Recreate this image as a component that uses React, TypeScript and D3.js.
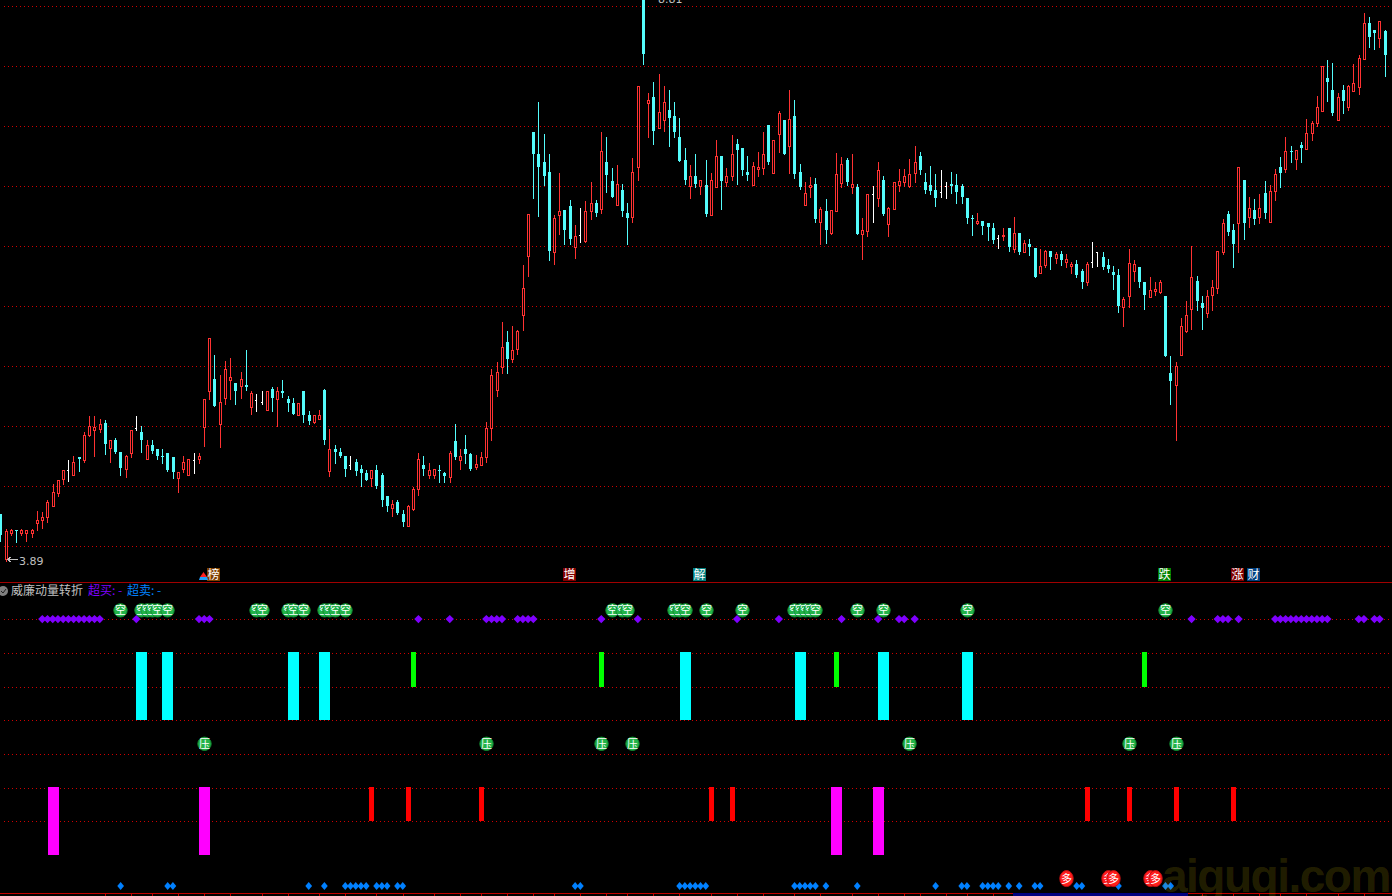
import * as d3 from "d3";

const WIDTH = 1392;
const HEIGHT = 896;

// daily candles
const opens = [
  4.28,3.89,4.12,4.14,4.12,4.12,4.12,4.20,4.23,4.26,
  4.35,4.47,4.59,4.67,4.63,4.78,4.76,4.98,5.02,5.03,
  5.08,4.86,4.93,4.83,4.68,4.82,5.04,5.00,4.77,4.89,
  4.85,4.79,4.82,4.78,4.60,4.68,4.63,4.76,4.77,5.05,
  5.36,5.47,5.07,5.30,5.46,5.43,5.41,5.42,5.22,5.28,
  5.27,5.20,5.38,5.29,5.36,5.29,5.26,5.15,5.36,5.15,
  5.09,5.12,5.37,4.66,4.85,4.83,4.79,4.71,4.74,4.68,
  4.64,4.60,4.67,4.63,4.44,4.34,4.39,4.28,4.18,4.33,
  4.50,4.71,4.63,4.63,4.67,4.64,4.61,4.92,4.76,4.85,
  4.81,4.70,4.71,4.78,5.04,5.37,5.57,5.79,5.64,5.73,
  6.03,6.55,7.64,7.44,7.37,7.29,6.58,6.91,6.95,6.99,
  6.63,6.73,6.68,6.94,7.01,6.96,7.37,7.21,7.00,7.13,
  6.93,6.89,7.33,8.81,7.89,7.94,7.67,7.74,7.83,7.78,
  7.59,7.39,7.16,7.25,7.16,7.17,6.91,7.15,7.43,7.20,
  7.25,7.53,7.50,7.29,7.17,7.31,7.32,7.70,7.28,7.62,
  7.74,7.51,7.78,7.29,7.00,7.15,7.18,6.85,6.94,6.75,
  6.94,7.19,7.39,7.15,7.15,6.74,6.77,7.09,7.06,7.22,
  6.83,6.96,7.17,7.20,7.16,7.28,7.43,7.20,7.17,7.13,
  7.11,7.16,7.18,7.17,7.16,7.06,6.88,6.84,6.86,6.84,
  6.79,6.71,6.72,6.79,6.61,6.75,6.58,6.65,6.62,6.40,
  6.47,6.59,6.53,6.57,6.50,6.46,6.48,6.42,6.32,6.50,
  6.58,6.54,6.47,6.41,6.38,6.10,6.20,6.42,6.45,6.32,
  6.19,6.24,6.23,6.20,5.52,5.42,5.68,5.89,6.08,6.33,
  6.14,6.05,6.21,6.27,6.58,6.92,6.78,6.84,7.22,6.89,
  6.95,6.89,7.10,6.85,7.12,7.33,7.31,7.47,7.40,7.52,
  7.49,7.63,7.72,7.82,8.11,8.01,7.74,8.01,7.86,8.00,
  8.03,8.28,8.59,8.53,8.46,8.52,
];
const highs = [
  4.28,4.15,4.15,4.14,4.15,4.14,4.15,4.31,4.30,4.41,
  4.55,4.58,4.67,4.76,4.79,4.78,5.00,5.14,5.14,5.12,
  5.11,4.93,4.95,4.83,4.80,5.02,5.14,5.06,4.93,4.93,
  4.85,4.85,4.82,4.78,4.65,4.79,4.77,4.82,4.82,5.29,
  5.83,5.68,5.50,5.63,5.65,5.43,5.53,5.72,5.36,5.34,
  5.36,5.36,5.40,5.40,5.46,5.32,5.30,5.26,5.36,5.19,
  5.15,5.20,5.38,5.03,4.89,4.86,4.79,4.79,4.77,4.71,
  4.67,4.67,4.71,4.64,4.44,4.41,4.41,4.32,4.36,4.52,
  4.82,4.79,4.73,4.68,4.71,4.65,4.84,5.07,4.85,4.98,
  4.82,4.80,4.83,5.09,5.56,5.62,5.97,5.89,5.93,5.90,
  6.47,6.92,7.64,7.90,7.62,7.44,6.91,7.28,6.95,7.04,
  6.82,6.97,7.03,7.20,7.04,7.64,7.59,7.32,7.35,7.18,
  7.01,7.41,8.04,8.81,7.98,8.08,8.15,8.04,8.01,7.90,
  7.76,7.50,7.35,7.44,7.22,7.39,7.28,7.57,7.43,7.32,
  7.61,7.58,7.50,7.43,7.37,7.46,7.64,7.70,7.57,7.82,
  7.74,8.01,7.92,7.36,7.20,7.24,7.23,6.98,7.05,6.95,
  7.45,7.42,7.41,7.44,7.18,6.88,7.09,7.16,7.37,7.25,
  6.98,7.20,7.31,7.31,7.40,7.51,7.46,7.28,7.34,7.27,
  7.30,7.20,7.29,7.27,7.18,7.06,6.91,6.93,6.86,6.84,
  6.84,6.73,6.79,6.79,6.89,6.75,6.69,6.70,6.62,6.61,
  6.60,6.59,6.58,6.59,6.57,6.50,6.51,6.43,6.50,6.67,
  6.58,6.58,6.52,6.46,6.43,6.19,6.61,6.51,6.45,6.32,
  6.36,6.32,6.34,6.20,5.67,5.62,6.00,6.15,6.64,6.37,
  6.20,6.25,6.34,6.59,6.87,6.94,6.83,7.33,7.22,7.07,
  7.05,7.09,7.21,7.17,7.31,7.42,7.59,7.51,7.48,7.55,
  7.75,7.73,7.95,8.22,8.27,8.24,7.98,8.05,8.05,8.23,
  8.31,8.68,8.65,8.53,8.61,8.53,
];
const lows = [
  4.05,3.87,4.10,4.04,4.10,4.05,4.08,4.14,4.16,4.21,
  4.35,4.44,4.55,4.57,4.63,4.66,4.74,4.97,4.79,5.00,
  4.81,4.74,4.82,4.63,4.61,4.78,5.02,4.83,4.77,4.82,
  4.77,4.73,4.66,4.60,4.48,4.65,4.63,4.64,4.73,4.88,
  5.29,5.23,4.87,5.25,5.29,5.25,5.30,5.37,5.16,5.19,
  5.25,5.20,5.19,5.06,5.31,5.19,5.16,5.15,5.09,5.07,
  5.08,5.12,4.90,4.62,4.73,4.78,4.62,4.68,4.63,4.53,
  4.58,4.53,4.51,4.35,4.31,4.27,4.28,4.18,4.18,4.32,
  4.45,4.63,4.60,4.60,4.56,4.56,4.56,4.77,4.68,4.73,
  4.67,4.68,4.71,4.74,4.93,5.32,5.52,5.52,5.62,5.69,
  5.90,6.37,7.06,6.90,7.17,6.51,6.48,6.74,6.65,6.65,
  6.53,6.67,6.67,6.87,6.90,6.93,7.11,7.07,7.00,6.90,
  6.65,6.85,7.22,8.23,7.59,7.53,7.67,7.65,7.51,7.59,
  7.38,7.18,7.06,7.15,7.09,6.90,6.91,7.15,6.96,7.16,
  7.22,7.18,7.26,7.22,7.17,7.25,7.27,7.36,7.28,7.46,
  7.44,7.28,7.23,7.14,7.00,7.07,6.85,6.65,6.66,6.74,
  6.94,7.15,7.17,7.10,6.74,6.52,6.72,6.85,6.99,6.91,
  6.72,6.96,7.12,7.16,7.15,7.20,7.27,7.10,7.09,6.99,
  7.07,7.06,7.10,7.01,7.01,6.84,6.73,6.83,6.74,6.69,
  6.66,6.62,6.69,6.59,6.58,6.57,6.58,6.56,6.36,6.40,
  6.45,6.43,6.49,6.47,6.45,6.40,6.36,6.27,6.29,6.45,
  6.46,6.43,6.41,6.26,6.06,5.93,6.10,6.33,6.28,6.08,
  6.19,6.21,6.22,5.67,5.25,4.93,5.68,5.88,5.91,6.07,
  5.91,6.01,6.07,6.22,6.57,6.73,6.45,6.58,6.70,6.80,
  6.83,6.84,6.88,6.85,7.04,7.15,7.29,7.37,7.31,7.37,
  7.49,7.57,7.69,7.82,7.91,7.79,7.74,7.80,7.83,8.00,
  7.97,8.28,8.38,8.37,8.38,8.13,
];
const closes = [
  4.10,4.13,4.14,4.13,4.14,4.14,4.14,4.23,4.26,4.39,
  4.48,4.58,4.67,4.67,4.74,4.77,4.98,5.06,5.05,5.07,
  4.90,4.93,4.83,4.69,4.79,5.02,5.04,4.93,4.89,4.84,
  4.79,4.78,4.67,4.65,4.65,4.74,4.77,4.76,4.79,5.29,
  5.83,5.23,5.27,5.56,5.49,5.36,5.47,5.40,5.35,5.28,
  5.27,5.36,5.30,5.36,5.35,5.26,5.16,5.26,5.15,5.10,
  5.15,5.15,4.93,4.85,4.83,4.79,4.68,4.71,4.66,4.64,
  4.58,4.67,4.53,4.41,4.35,4.37,4.29,4.21,4.35,4.50,
  4.77,4.68,4.67,4.68,4.66,4.62,4.82,4.78,4.79,4.81,
  4.68,4.72,4.78,5.04,5.50,5.53,5.75,5.64,5.72,5.89,
  6.27,6.92,7.44,7.33,7.25,6.59,6.88,6.94,6.78,6.70,
  6.72,6.73,6.94,7.01,6.93,7.47,7.26,7.07,7.18,6.94,
  6.88,7.29,8.04,8.32,7.92,7.65,7.81,7.90,7.76,7.64,
  7.38,7.22,7.25,7.18,7.22,6.92,7.22,7.43,7.21,7.25,
  7.44,7.48,7.30,7.26,7.34,7.33,7.44,7.37,7.57,7.80,
  7.44,7.75,7.27,7.15,7.10,7.17,6.87,6.96,6.78,6.95,
  7.27,7.36,7.20,7.18,6.74,6.78,7.09,7.09,7.30,6.92,
  6.97,7.20,7.21,7.25,7.27,7.37,7.30,7.13,7.12,7.06,
  7.11,7.16,7.16,7.11,7.07,6.88,6.87,6.86,6.81,6.80,
  6.69,6.71,6.73,6.63,6.75,6.58,6.66,6.63,6.36,6.46,
  6.59,6.54,6.57,6.51,6.52,6.48,6.38,6.32,6.48,6.50,
  6.58,6.45,6.43,6.38,6.11,6.17,6.49,6.48,6.32,6.21,
  6.25,6.26,6.32,5.67,5.45,5.58,5.93,6.03,6.36,6.15,
  6.09,6.20,6.28,6.59,6.84,6.76,6.65,7.33,6.84,6.97,
  6.87,6.97,6.93,7.12,7.27,7.28,7.47,7.46,7.48,7.50,
  7.63,7.72,7.86,8.22,8.08,7.80,7.94,7.91,8.04,8.07,
  8.29,8.59,8.47,8.51,8.61,8.31,
];

const PRICE_LOW = 3.89;
const PRICE_HIGH = 8.81;

// events, as candle indexes
const oversoldDots = [8,9,10,11,12,13,14,15,16,17,18,19,26,38,39,40,80,86,93,94,95,96,99,100,101,102,115,122,141,149,161,168,172,173,175,228,233,234,235,237,244,245,246,247,248,249,250,251,252,253,254,260,261,263,264];
const overboughtDots = [23,32,33,59,62,66,67,68,69,70,72,73,74,76,77,110,111,130,131,132,133,134,135,152,153,154,155,156,158,164,179,184,185,188,189,190,191,193,195,198,199,206,207,214,223,224];
const kongBadges = [23,27,28,29,30,32,49,50,55,56,58,62,63,64,66,117,119,120,129,130,131,135,142,152,153,154,155,156,164,169,185,223];
const yaBadges = [39,93,115,121,174,216,225];
const duoBadges = [204,212,213,220,221];
const cyanBars = [27,32,56,62,131,153,169,185];
const greenBars = [79,115,160,219];
const magentaBars = [10,39,160,168];
const redBars = [71,78,92,136,140,208,216,225,236];

const eventTags = [
  { index: 41, label: "榜", color: "#804000" },
  { index: 109, label: "增", color: "#800000" },
  { index: 134, label: "解", color: "#008080" },
  { index: 223, label: "跌", color: "#008000" },
  { index: 237, label: "涨", color: "#800000" },
  { index: 240, label: "财", color: "#004080" },
];

const axisTicks = [20,25,29,34,39,44,50,55,61,66,72,77,83,88,92,97,102,106,111,116,120,125,130,136,141,146,152,157,163,168,173,176,181,185,190,230,236,241,245,250,256,261];

const RED = "#ff3232";
const CYAN = "#54fcfc";
const GRID = "#d00000";
const CJK = '"Noto Sans CJK SC", sans-serif';

const x = d3.scaleLinear().domain([0, 265]).range([0.8, 1385.16]);
const y = d3.scaleLinear().domain([PRICE_LOW, PRICE_HIGH]).range([558.8, -1.6]);
// lower pane, one unit per grid row
const level = d3.scaleLinear().domain([0, 8]).range([855, 585.4]);
const levelTop = (v: number) => Math.floor(level(v));

const px = (i: number) => Math.floor(x(i));
const mainGrid = d3.range(10).map((k) => 6 + 60 * k);
const paneGrid = d3.range(1, 8).map((v) => Math.round(level(v)));

const purpleDiamond = d3.symbol().type(d3.symbolDiamond2).size(44)();
const blueDiamond = d3.symbol().type(d3.symbolDiamond2).size(40)();

const Candle = ({ i }: { i: number }) => {
  const o = opens[i];
  const c = closes[i];
  const left = px(i);
  const wickTop = Math.round(y(highs[i]));
  const wickBottom = Math.round(y(lows[i])) + 1;
  const top = Math.round(y(Math.max(o, c)));
  const bottom = Math.max(top + 1, Math.round(y(Math.min(o, c))));

  if (c === o) {
    return (
      <g fill="#ffffff">
        <rect x={left} y={wickTop} width={1} height={wickBottom - wickTop} />
        <rect x={left - 1} y={top} width={1} height={1} />
      </g>
    );
  }
  const color = c > o ? RED : CYAN;
  return (
    <g fill={color}>
      <rect x={left} y={wickTop} width={1} height={wickBottom - wickTop} />
      <rect x={left - 1} y={top} width={3} height={bottom - top + (c > o ? 1 : 0)} />
      {c > o && bottom - top > 1 && (
        <rect x={left} y={top + 1} width={1} height={bottom - top - 1} fill="#000000" />
      )}
    </g>
  );
};

const Badge = ({ i, label, fill, edge, cy, ry = 6.7 }: { i: number; label: string; fill: string; edge: string; cy: number; ry?: number }) => (
  <g transform={`translate(${px(i) + 0.5},${cy})`}>
    <ellipse rx={6.7} ry={ry} fill={fill} stroke={edge} strokeWidth={1} />
    <text y={4} textAnchor="middle" fontSize={11} fill="#ffffff" fontFamily={CJK}>
      {label}
    </text>
  </g>
);

export default function App() {
  return (
    <svg
      width={WIDTH}
      height={HEIGHT}
      viewBox={`0 0 ${WIDTH} ${HEIGHT}`}
      style={{ position: "fixed", left: 0, top: 0, background: "#000000", display: "block" }}
    >
      <defs>
        <pattern id="gridDots" width={4} height={1} patternUnits="userSpaceOnUse">
          <rect width={1} height={1} fill={GRID} />
        </pattern>
      </defs>
      <rect width={WIDTH} height={HEIGHT} fill="#000000" />

      <g fill="url(#gridDots)" shapeRendering="crispEdges">
        {[...mainGrid, ...paneGrid].map((gy) => (
          <rect key={gy} x={1} y={gy} width={WIDTH} height={1} />
        ))}
      </g>

      <g shapeRendering="crispEdges">
        {opens.map((_, i) => (
          <Candle key={i} i={i} />
        ))}
      </g>

      {/* high and low labels */}
      <text x={658} y={3} fontSize={11} fill="#c0c0c0" fontFamily="DejaVu Sans">
        8.81
      </text>
      <g stroke="#c0c0c0" fill="none" shapeRendering="crispEdges">
        <path d="M7,559.5H18" />
        <path d="M8,558.5h2M8,560.5h2M9,557.5h2M9,561.5h2" />
      </g>
      <text x={19} y={565} fontSize={11} fill="#c0c0c0" fontFamily="DejaVu Sans">
        3.89
      </text>

      {/* event tags above the separator */}
      {eventTags.map((t) => (
        <g key={t.label} transform={`translate(${px(t.index) - 7},568)`}>
          <rect width={13} height={13} fill={t.color} />
          <text x={6.5} y={11} textAnchor="middle" fontSize={12} fill="#ffffff" fontFamily={CJK}>
            {t.label}
          </text>
        </g>
      ))}
      <path d="M203.5,572L207,577H200Z" fill="#ff2020" />
      <path d="M200,577H207L208,580H199Z" fill="#20a0ff" />

      <line x1={0} x2={WIDTH} y1={582.5} y2={582.5} stroke="#a00000" shapeRendering="crispEdges" />

      {/* indicator title */}
      <circle cx={3} cy={591} r={5} fill="#808080" />
      <path d="M1,591l2,2l3,-4" fill="none" stroke="#202020" strokeWidth={1} />
      <text x={11} y={595} fontSize={12} fill="#c0c0c0" fontFamily={CJK}>
        威廉动量转折
      </text>
      <text x={88} y={595} fontSize={12} fill="#7f00ff" fontFamily={CJK}>
        超买:
      </text>
      <text x={118} y={595} fontSize={12} fill="#7f00ff" fontFamily={CJK}>
        -
      </text>
      <text x={127} y={595} fontSize={12} fill="#0080ff" fontFamily={CJK}>
        超卖:
      </text>
      <text x={157} y={595} fontSize={12} fill="#0080ff" fontFamily={CJK}>
        -
      </text>

      {/* signal bars */}
      <g shapeRendering="crispEdges">
        {cyanBars.map((i) => (
          <rect key={i} x={px(i) - 5} y={levelTop(6)} width={11} height={level(4) - levelTop(6)} fill="#00ffff" />
        ))}
        {greenBars.map((i) => (
          <rect key={i} x={px(i) - 2} y={levelTop(6)} width={5} height={level(5) - levelTop(6)} fill="#00ff00" />
        ))}
        {magentaBars.map((i) => (
          <rect key={i} x={px(i) - 5} y={levelTop(2)} width={11} height={level(0) - levelTop(2)} fill="#ff00ff" />
        ))}
        {redBars.map((i) => (
          <rect key={i} x={px(i) - 2} y={levelTop(2)} width={5} height={level(1) - levelTop(2)} fill="#ff0000" />
        ))}
      </g>

      {oversoldDots.map((i) => (
        <path key={i} d={purpleDiamond ?? ""} transform={`translate(${x(i) - 0.3},${level(7)})`} fill="#7f00ff" />
      ))}
      {overboughtDots.map((i) => (
        <path key={i} d={blueDiamond ?? ""} transform={`translate(${x(i) - 0.3},${level(-0.92)}) scale(0.85,1)`} fill="#0080ff" />
      ))}

      {kongBadges.map((i) => (
        <Badge key={i} i={i} label="空" fill="#22b348" edge="#128a30" cy={level(7.26)} />
      ))}
      {yaBadges.map((i) => (
        <Badge key={i} i={i} label="压" fill="#22b348" edge="#128a30" cy={level(3.3)} />
      ))}
      {duoBadges.map((i) => (
        <Badge key={i} i={i} label="多" fill="#ff1c1c" edge="#c01010" cy={level(-0.7)} ry={8} />
      ))}

      {/* bottom date axis */}
      <rect x={1013} y={893} width={175} height={3} fill="#000080" />
      <g stroke="#c00000" shapeRendering="crispEdges">
        <line x1={0} x2={1013} y1={893.5} y2={893.5} />
        <line x1={1188} x2={WIDTH} y1={893.5} y2={893.5} />
        {axisTicks.map((i) => (
          <line key={i} x1={px(i) + 0.5} x2={px(i) + 0.5} y1={893} y2={896} />
        ))}
      </g>

      <text
        x={1162}
        y={892}
        fontSize={46}
        fontWeight="bold"
        fontFamily="Liberation Sans"
        letterSpacing={-1.5}
        fill="#c8b400"
        fillOpacity={0.18}
      >
        aiguqi.com
      </text>
    </svg>
  );
}
